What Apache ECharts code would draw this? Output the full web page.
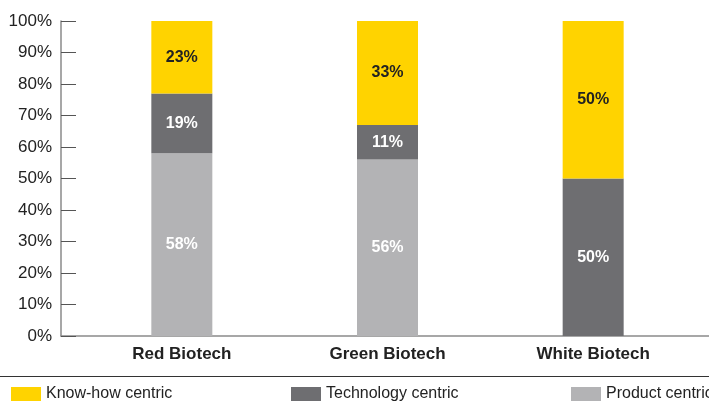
<!DOCTYPE html>
<html>
<head>
<meta charset="utf-8">
<style>
html,body{margin:0;padding:0;background:#fff;}
#chart{width:709px;height:401px;}
</style>
<script src="https://cdn.jsdelivr.net/npm/echarts@6/dist/echarts.min.js"></script>
</head>
<body>
<div id="chart"></div>
<script>
var categories = ['Red Biotech', 'Green Biotech', 'White Biotech'];
var knowHow = [23, 33, 50];
var technology = [19, 11, 50];
var product = [58, 56, 0];
var yTicks = [0, 10, 20, 30, 40, 50, 60, 70, 80, 90, 100];

var FONT = '"Liberation Sans", Arial, sans-serif';
var chart = echarts.init(document.getElementById('chart'), null, {renderer: 'canvas'});

function lbl(color) {
  return {
    show: true,
    position: 'inside',
    color: color,
    fontFamily: FONT,
    fontWeight: 'bold',
    fontSize: 16,
    formatter: function (p) { return p.value ? p.value + '%' : ''; }
  };
}

function leg(name, left) {
  return {data: [name], left: left, top: 386, padding: 0, itemWidth: 30, itemHeight: 14,
          itemGap: 0, icon: 'rect',
          textStyle: {color: '#222', fontFamily: FONT, fontSize: 16, padding: [6, 0, 0, 0]}};
}

var option = {
  animation: false,
  backgroundColor: '#ffffff',
  grid: [
    {left: 61, right: 0, top: 21, bottom: 65},
    {left: 79, right: 13, top: 21, bottom: 65}
  ],
  xAxis: [
    {gridIndex: 0, type: 'value', min: 0, max: 1,
     axisLine: {show: true, lineStyle: {color: '#8a8a8a', width: 1.5}},
     axisTick: {show: false}, axisLabel: {show: false}, splitLine: {show: false}},
    {gridIndex: 1, type: 'category', data: categories,
     axisLine: {show: false}, axisTick: {show: false},
     axisLabel: {margin: 10, color: '#222', fontFamily: FONT, fontWeight: 'bold', fontSize: 17}}
  ],
  yAxis: [
    {gridIndex: 0, type: 'value', min: yTicks[0], max: yTicks[yTicks.length - 1], interval: 10,
     axisLine: {show: true, lineStyle: {color: '#8a8a8a', width: 1.5}},
     axisTick: {show: true, inside: true, length: 15, lineStyle: {color: '#555', width: 1}},
     axisLabel: {margin: 9, color: '#222', fontFamily: FONT, fontSize: 17,
                 formatter: '{value}%'},
     splitLine: {show: false}},
    {gridIndex: 1, type: 'value', min: 0, max: 100, show: false}
  ],
  legend: [
    leg('Know-how centric', 11),
    leg('Technology centric', 291),
    leg('Product centric', 571)
  ],
  graphic: [
    {type: 'line', shape: {x1: 0, y1: 376.5, x2: 709, y2: 376.5},
     style: {stroke: '#333', lineWidth: 1.2}, silent: true}
  ],
  series: [
    {name: 'Product centric', type: 'bar', stack: 's', xAxisIndex: 1, yAxisIndex: 1,
     data: product, barWidth: 61, itemStyle: {color: '#b3b3b5'}, label: lbl('#ffffff')},
    {name: 'Technology centric', type: 'bar', stack: 's', xAxisIndex: 1, yAxisIndex: 1,
     data: technology, barWidth: 61, itemStyle: {color: '#6e6e71'}, label: lbl('#ffffff')},
    {name: 'Know-how centric', type: 'bar', stack: 's', xAxisIndex: 1, yAxisIndex: 1,
     data: knowHow, barWidth: 61, itemStyle: {color: '#ffd300'}, label: lbl('#222222')}
  ]
};
chart.setOption(option);
</script>
</body>
</html>
